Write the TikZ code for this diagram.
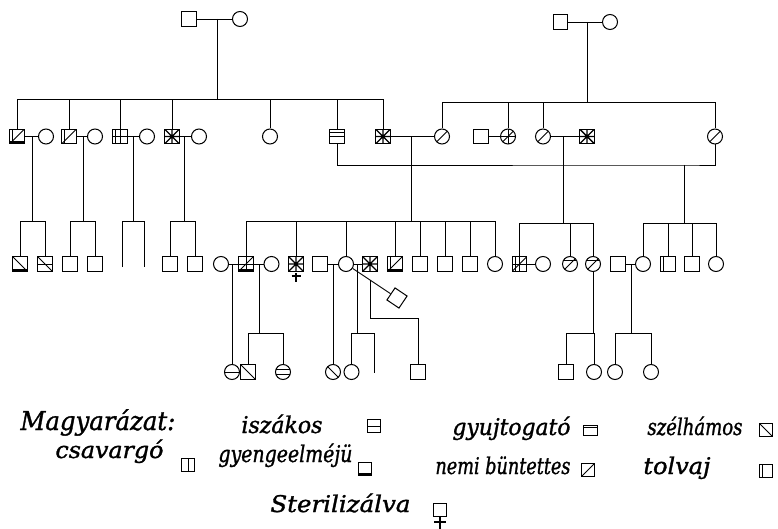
\documentclass[tikz,border=0pt]{standalone}
\usepackage{fontspec}
\usepackage{graphicx}
\IfFontExistsTF{DejaVu Serif Condensed}{\newfontfamily\handfont{DejaVu Serif Condensed}}{\newfontfamily\handfont{DejaVu Serif}}
\usetikzlibrary{calc}
\tikzset{
  mkline/.style={line width=0.9pt},
  sym/.style={path picture={#1}},
  msq/.style={draw, rectangle, minimum size=14.5pt, inner sep=0pt, line width=1pt},
  fci/.style={draw, circle, minimum size=15pt, inner sep=0pt, line width=1pt},
  lsq/.style={draw, rectangle, minimum size=13pt, inner sep=0pt, line width=0.9pt},
  lgd/.style={anchor=base west, inner sep=0pt},
  crossline/.style={line width=2pt},
}
\newcommand\mkSL{\draw[mkline] (path picture bounding box.south west) -- (path picture bounding box.north east);}
\newcommand\mkBS{\draw[mkline] (path picture bounding box.north west) -- (path picture bounding box.south east);}
\newcommand\mkHM{\draw[mkline] (path picture bounding box.west) -- (path picture bounding box.east);}
\newcommand\mkVM{\draw[mkline] (path picture bounding box.north) -- (path picture bounding box.south);}
\newcommand\mkTL{\draw[mkline] ([yshift=-3.5pt]path picture bounding box.north west) -- ([yshift=-3.5pt]path picture bounding box.north east);}
\newcommand\mkLL{\draw[mkline] ([xshift=3pt]path picture bounding box.north west) -- ([xshift=3pt]path picture bounding box.south west);}
\newcommand\mkBT{\fill ([yshift=2.5pt]path picture bounding box.south west) rectangle (path picture bounding box.south east);}
\newcommand\mkHtwo{\draw[line width=1.1pt] ([yshift=2.2pt]path picture bounding box.west) -- ([yshift=2.2pt]path picture bounding box.east) ([yshift=-2.2pt]path picture bounding box.west) -- ([yshift=-2.2pt]path picture bounding box.east);}
\newcommand\mkDK{\draw[line width=1.4pt] (path picture bounding box.south west) -- (path picture bounding box.north east) (path picture bounding box.north west) -- (path picture bounding box.south east) (path picture bounding box.west) -- (path picture bounding box.east) (path picture bounding box.north) -- (path picture bounding box.south);}
\newsavebox\lgbox
\newlength\lgwd
\newcommand\lgt[3]{\sbox\lgbox{\fontsize{#2}{#2}\selectfont\handfont\itshape\addfontfeature{FakeBold=1.2}#3}\setlength\lgwd{\wd\lgbox}\pgfmathsetmacro\lgsx{#1/\lgwd}\scalebox{\lgsx}[1]{\usebox\lgbox}}
\begin{document}
\begin{tikzpicture}[x=1pt,y=-1pt,line width=0.9pt]
\useasboundingbox (0,0) rectangle (778,529);
% generation 1
\node[msq] (A1) at (189,19) {};
\node[fci] (A2) at (240,19) {};
\coordinate (cA) at (217,19);
\coordinate (bA) at (217,99);
\draw (A1) -- (A2);
\draw (cA) -- (bA);
\node[msq] (C1) at (560.5,22) {};
\node[fci] (C2) at (610,22) {};
\coordinate (cC) at (587,22);
\coordinate (bC) at (587,102);
\draw (C1) -- (C2);
\draw (cC) -- (bC);
% generation 2 left
\node[msq,sym={\mkSL\mkLL\mkBT}] (B1) at (17,136.5) {};
\node[fci] (W1) at (46,136.5) {};
\node[msq,sym={\mkSL\mkLL}] (B2) at (69,136.5) {};
\node[fci] (W2) at (95,136.5) {};
\node[msq,sym={\mkVM\mkHM\mkLL}] (B3) at (120,136.5) {};
\node[fci] (W3) at (147,136.5) {};
\node[msq,sym={\mkDK}] (B4) at (172,136.5) {};
\node[fci] (W4) at (199,136.5) {};
\node[fci] (B5) at (270,136.5) {};
\node[msq,sym={\mkTL\mkHM}] (B6) at (337,136.5) {};
\node[msq,sym={\mkDK}] (B7) at (383,136.5) {};
\draw (B1.north) |- (B7.north |- bA) -- (B7.north);
\foreach \n in {B2,B3,B4,B5,B6} \draw (\n.north) -- (\n.north |- bA);
\draw (B1) -- (W1);
\draw (B2) -- (W2);
\draw (B3) -- (W3);
\draw (B4) -- (W4);
% generation 2 right
\node[fci,sym={\mkSL}] (D1) at (442,136.5) {};
\node[msq] (E1) at (481,136.5) {};
\node[fci,sym={\mkSL\mkHM\mkVM}] (D2) at (508,136.5) {};
\node[fci,sym={\mkSL}] (D3) at (543,136.5) {};
\node[msq,sym={\mkDK}] (E3) at (587,136.5) {};
\node[fci,sym={\mkSL}] (D4) at (715,136.5) {};
\draw (D1.north) |- (D4.north |- bC) -- (D4.north);
\foreach \n in {D2,D3} \draw (\n.north) -- (\n.north |- bC);
\draw (B7) -- (D1);
\draw (E1) -- (D2);
\draw (D3) -- (E3);
\coordinate (cBD) at (411,136.5);
\coordinate (bG) at (411,221);
\draw (cBD) -- (bG);
\coordinate (cDE) at (563,136.5);
\coordinate (bH) at (563,223);
\draw (cDE) -- (bH);
\coordinate (mBD) at (684,165);
\coordinate (bJ) at (684,223);
\draw (B6.south) |- (mBD) -| (D4.south);
\draw (mBD) -- (bJ);
% generation 3 left
\coordinate (k1) at (32,136.5); \coordinate (b1) at (32,221);
\coordinate (k2) at (83,136.5); \coordinate (b2) at (83,221);
\coordinate (k3) at (133,136.5); \coordinate (b3) at (133,221);
\coordinate (k4) at (184,136.5); \coordinate (b4) at (184,221);
\foreach \a/\b in {k1/b1,k2/b2,k3/b3,k4/b4} \draw (\a) -- (\b);
\node[msq,sym={\mkBS\mkBT}] (F1) at (20,264) {};
\node[msq,sym={\mkBS\mkHM}] (F2) at (45,264) {};
\node[msq] (F3) at (70,264) {};
\node[msq] (F4) at (95,264) {};
\coordinate (e1) at (122,267);
\coordinate (e2) at (144,267);
\node[msq] (F5) at (170,264) {};
\node[msq] (F6) at (195,264) {};
\draw (F1.north) |- (F2.north |- b1) -- (F2.north);
\draw (F3.north) |- (F4.north |- b2) -- (F4.north);
\draw (e1) |- (e2 |- b3) -- (e2);
\draw (F5.north) |- (F6.north |- b4) -- (F6.north);
% generation 3 middle
\node[fci] (G0) at (221,264) {};
\node[msq,sym={\mkSL\mkVM\mkHM\mkBT}] (G1) at (246,264) {};
\node[fci] (G1w) at (271.5,264) {};
\node[msq,sym={\mkDK}] (G2) at (296,264) {};
\node[msq] (G3h) at (320,264) {};
\node[fci] (G3) at (346,264) {};
\node[msq,sym={\mkDK}] (G3w) at (370,264) {};
\node[msq,sym={\mkSL\mkLL\mkBT}] (G4) at (395,264) {};
\node[msq] (G5) at (420,264) {};
\node[msq] (G6) at (445,264) {};
\node[msq] (G7) at (470,264) {};
\node[fci] (G8) at (495,264) {};
\draw (G1.north) |- (G8.north |- bG) -- (G8.north);
\foreach \n in {G2,G3,G4,G5,G6,G7} \draw (\n.north) -- (\n.north |- bG);
\draw (G0) -- (G1);
\draw (G1) -- (G1w);
\draw (G3h) -- (G3);
\draw (G3) -- (G3w);
\draw[crossline] ([yshift=-1pt]G2.south) -- ++(0,9);
\draw[crossline] ($(G2.south)+(-4.5,4.5)$) -- ++(9,0);
% generation 3 right
\node[msq,sym={\mkSL\mkHM\mkVM\mkLL}] (H1) at (519.5,264) {};
\node[fci] (H1w) at (543,264) {};
\node[fci,sym={\mkSL\mkTL}] (H2) at (570,264) {};
\node[fci,sym={\mkSL\mkTL}] (H3) at (593,264) {};
\draw (H1.north) |- (H3.north |- bH) -- (H3.north);
\draw (H2.north) -- (H2.north |- bH);
\draw (H1) -- (H1w);
\node[msq] (J0) at (618,264) {};
\node[fci] (J1) at (643,264) {};
\node[msq,sym={\mkLL}] (J2) at (668,264) {};
\node[msq] (J3) at (692,264) {};
\node[fci] (J4) at (716,264) {};
\draw (J1.north) |- (J4.north |- bJ) -- (J4.north);
\foreach \n in {J2,J3} \draw (\n.north) -- (\n.north |- bJ);
\draw (J0) -- (J1);
% generation 4
\node[fci,sym={\mkHM}] (K1) at (232,372) {};
\draw (K1.north) -- (K1.north |- G0.east);
\node[msq,sym={\mkBS}] (K2) at (248,372) {};
\node[fci,sym={\mkHtwo}] (K3) at (283,372) {};
\coordinate (cG1) at (259,264);
\coordinate (bK) at (259,333);
\draw (cG1) -- (bK);
\draw (K2.north) |- (K3.north |- bK) -- (K3.north);
\node[fci,sym={\mkBS}] (K4) at (333,372) {};
\draw (K4.north) -- (K4.north |- G3.west);
\node[fci] (K5) at (351.5,372) {};
\coordinate (e3) at (374,373);
\coordinate (cG3) at (357,264);
\coordinate (bK5) at (357,333);
\draw (cG3) -- (bK5);
\draw (K5.north) |- (e3 |- bK5) -- (e3);
\node[msq,rotate=-34] (P) at (397,298) {};
\draw (G3) -- (P);
\coordinate (br) at ($(G3)!0.47!(P)$);
\coordinate (bP) at (370,318);
\node[msq] (K6) at (418,372) {};
\draw (br) |- (K6.north |- bP) -- (K6.north);
\node[msq] (L1) at (566,372) {};
\node[fci] (L2) at (594,372) {};
\coordinate (bL) at (593,333);
\draw (H3.south) -- (H3.south |- bL);
\draw (L1.north) |- (L2.north |- bL) -- (L2.north);
\node[fci] (L3) at (615,372) {};
\node[fci] (L4) at (651,372) {};
\coordinate (cJ) at (631,264);
\coordinate (bL3) at (631,333);
\draw (cJ) -- (bL3);
\draw (L3.north) |- (L4.north |- bL3) -- (L4.north);
% legend
\node[lgd] (t0) at (20,430) {\lgt{155}{26}{Magyarázat:}};
\node[lgd] (t1) at (241,433) {\lgt{81}{23}{iszákos}};
\node[lsq,sym={\mkHM}] (s1) at (374,426) {};
\node[lgd] (t2) at (452,435) {\lgt{118}{23}{gyujtogató}};
\node[draw,rectangle,minimum width=14pt,minimum height=10pt,inner sep=0pt,line width=0.9pt,sym={\draw[mkline] ([yshift=-2.5pt]path picture bounding box.north west) -- ([yshift=-2.5pt]path picture bounding box.north east);}] (s2) at (590,430) {};
\node[lgd] (t3) at (647,435) {\lgt{95}{23}{szélhámos}};
\node[lsq,sym={\mkBS}] (s3) at (766,430) {};
\node[lgd] (t4) at (55,458) {\lgt{108}{23}{csavargó}};
\node[lsq,sym={\mkVM}] (s4) at (188,465) {};
\node[lgd] (t5) at (218,462) {\lgt{134}{23}{gyengeelméjü}};
\node[lsq,sym={\mkBT}] (s5) at (365,469) {};
\node[lgd] (t6) at (435,474) {\lgt{135}{23}{nemi büntettes}};
\node[lsq,sym={\mkSL}] (s6) at (588,470) {};
\node[lgd] (t7) at (643,474) {\lgt{67}{23}{tolvaj}};
\node[lsq,sym={\mkLL}] (s7) at (766,471) {};
\node[lgd] (t8) at (270,512) {\lgt{140}{23}{Sterilizálva}};
\node[lsq] (s8) at (440,510) {};
\draw[crossline] (s8.south) -- ++(0,12);
\draw[crossline] ($(s8.south)+(-6,5.5)$) -- ++(12,0);
\end{tikzpicture}
\end{document}
